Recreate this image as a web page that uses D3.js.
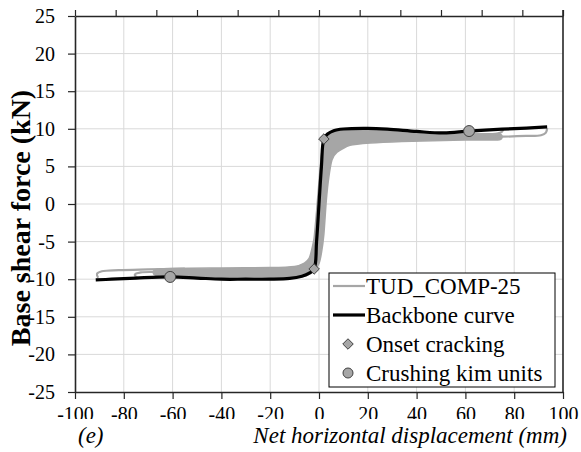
<!DOCTYPE html>
<html>
<head>
<meta charset="utf-8">
<script src="https://cdn.jsdelivr.net/npm/d3@7"></script>
<style>
  body { margin: 0; background: #fff; }
  #chart text { font-family: "Liberation Serif", "Times New Roman", serif; }
</style>
</head>
<body>
<svg id="chart" width="581" height="452"></svg>
<script>
// AXIS TICKS
var xTicks = [-100, -80, -60, -40, -20, 0, 20, 40, 60, 80, 100];
var yTicks = [-25, -20, -15, -10, -5, 0, 5, 10, 15, 20, 25];
var topTickCount = 12;

// BACKBONE CURVE [disp mm, force kN]
var backbone = [
  [-91.5, -10.1], [-85, -10.0], [-75, -9.85], [-61, -9.7], [-50, -9.85], [-40, -10.0],
  [-30, -10.0], [-20, -10.0], [-12, -9.9], [-7, -9.6], [-4, -9.2], [-2, -8.64],
  [-1, -5], [0, 0], [1, 5], [2, 8.64], [3.5, 9.3], [6, 9.75], [10, 9.97], [20, 10.05],
  [28, 9.95], [40, 9.65], [51, 9.45], [61.5, 9.7], [75, 9.95], [85, 10.1], [93.5, 10.25]
];

// TUD_COMP-25 cycles: envelope of the dense loops (upper edge, then lower edge back)
var loopsUpper = [
  [-66, -8.65], [-40, -8.5], [-20, -8.45], [-10, -8.3], [-6, -7.85], [-4, -7.2],
  [-3, -6.1], [-2, -4.5], [-1, -1], [0, 3], [1, 6.5], [2, 8.4], [3.5, 9.2], [6, 9.6],
  [10, 9.8], [20, 9.9], [28, 9.8], [40, 9.5], [51, 9.3], [60, 9.3], [74, 9.3]
];
var loopsLower = [
  [74, 8.55], [60, 8.5], [51, 8.45], [34, 8.3], [21, 8.1], [12.7, 7.8], [7.4, 6.9],
  [5.3, 5.85], [4, 3.5], [3, 0.5], [2, -4], [1, -6.5], [0, -7.9], [-2, -8.9],
  [-5, -9.5], [-10, -9.75], [-20, -9.8], [-40, -9.8], [-66, -9.55]
];
// outer cycles that reach past the dense part
var outerPosA = [[60, 8.9], [75, 8.95], [85, 9.05], [91, 9.15], [93, 9.5], [93.5, 10.1]];
var outerPosB = [[50, 9.15], [65, 9.25], [73, 9.35], [75, 9.6], [75.5, 10.0]];
var outerNegA = [[-55, -8.6], [-70, -8.7], [-82, -8.8], [-89, -8.95], [-91, -9.3], [-90.5, -9.8]];
var outerNegB = [[-55, -9.0], [-65, -9.05], [-73, -9.1], [-75.5, -9.4], [-74.5, -9.8]];

// MARKERS
var crackingPts = [[-2, -8.64], [2, 8.64]];
var crushingPts = [[-61, -9.7], [61.5, 9.7]];

var legendLabels = ['TUD_COMP-25', 'Backbone curve', 'Onset cracking', 'Crushing kim units'];

var grey = '#a6a6a6';
var svg = d3.select('#chart');

var x = d3.scaleLinear().domain([-100, 100]).range([75, 563]);
var y = d3.scaleLinear().domain([-25, 25]).range([392, 16]);
var xTop = d3.scaleLinear().domain([0, topTickCount]).range([75, 563]);
var plain = function(d) { return String(d); };   // hyphen minus, like the original

// GRID
svg.append('g').selectAll('line')
  .data(xTicks.slice(1, -1))
  .enter().append('line')
    .attr('x1', function(d) { return x(d); })
    .attr('x2', function(d) { return x(d); })
    .attr('y1', y(25)).attr('y2', y(-25))
    .attr('stroke', '#d9d9d9').attr('stroke-width', 1);
svg.append('g').selectAll('line')
  .data(yTicks.slice(1, -1))
  .enter().append('line')
    .attr('y1', function(d) { return y(d); })
    .attr('y2', function(d) { return y(d); })
    .attr('x1', x(-100)).attr('x2', x(100))
    .attr('stroke', '#d9d9d9').attr('stroke-width', 1);

// HYSTERESIS LOOPS
var line = d3.line()
  .x(function(d) { return x(d[0]); })
  .y(function(d) { return y(d[1]); })
  .curve(d3.curveCatmullRom.alpha(0.5));
var bandLine = d3.line()
  .x(function(d) { return x(d[0]); })
  .y(function(d) { return y(d[1]); })
  .curve(d3.curveCardinalClosed.tension(0.4));

svg.append('path')
  .attr('class', 'band')
  .attr('d', bandLine(loopsUpper.concat(loopsLower)))
  .attr('fill', grey)
  .attr('stroke', grey)
  .attr('stroke-width', 1.5);

svg.selectAll('path.outer')
  .data([outerPosA, outerPosB, outerNegA, outerNegB])
  .enter().append('path')
    .attr('class', 'outer')
    .attr('d', line)
    .attr('fill', 'none')
    .attr('stroke', grey)
    .attr('stroke-width', 2.2);

// BACKBONE
svg.append('path')
  .datum(backbone)
    .attr('d', line)
    .attr('fill', 'none')
    .attr('stroke', '#000')
    .attr('stroke-width', 3.2)
    .attr('stroke-linejoin', 'round');

var diamond = d3.symbol().type(d3.symbolDiamond2).size(70);
svg.selectAll('path.crack')
  .data(crackingPts)
  .enter().append('path')
    .attr('class', 'crack')
    .attr('d', diamond)
    .attr('transform', function(d) { return 'translate(' + x(d[0]) + ',' + y(d[1]) + ')'; })
    .attr('fill', grey)
    .attr('stroke', '#404040')
    .attr('stroke-width', 1);

svg.selectAll('circle.crush')
  .data(crushingPts)
  .enter().append('circle')
    .attr('class', 'crush')
    .attr('cx', function(d) { return x(d[0]); })
    .attr('cy', function(d) { return y(d[1]); })
    .attr('r', 5.5)
    .attr('fill', grey)
    .attr('stroke', '#404040')
    .attr('stroke-width', 1);

// AXES
var yAxis = svg.append('g')
  .attr('transform', 'translate(' + x(-100) + ',0)')
  .call(d3.axisLeft(y).tickValues(yTicks).tickSize(7).tickSizeOuter(0).tickPadding(13).tickFormat(plain));

// bottom tick labels sit slightly cut off in the original
svg.append('clipPath').attr('id', 'xlabClip')
  .append('rect').attr('x', 0).attr('y', 0).attr('width', 581).attr('height', 419);
var xAxis = svg.append('g')
  .attr('clip-path', 'url(#xlabClip)')
  .append('g')
  .attr('transform', 'translate(0,' + y(-25) + ')')
  .call(d3.axisBottom(x).tickValues(xTicks).tickSize(7).tickSizeOuter(0).tickPadding(8).tickFormat(plain));

var topAxis = svg.append('g')
  .attr('transform', 'translate(0,' + y(25) + ')')
  .call(d3.axisTop(xTop).ticks(topTickCount).tickSize(6).tickSizeOuter(0).tickFormat(''));

svg.append('line')
  .attr('x1', x(100)).attr('x2', x(100))
  .attr('y1', y(25) - 6).attr('y2', y(-25))
  .attr('stroke', '#262626').attr('stroke-width', 1.6);

svg.selectAll('.domain').attr('stroke', '#262626').attr('stroke-width', 1.6);
svg.selectAll('.tick line').attr('stroke', '#262626').attr('stroke-width', 1.2);
svg.selectAll('.tick text')
  .attr('font-size', 20)
  .attr('fill', '#000');

// AXIS TITLES
svg.append('text')
  .attr('transform', 'translate(30,' + 218 + ') rotate(-90)')
  .attr('text-anchor', 'middle')
  .attr('font-size', 28)
  .attr('font-weight', 'bold')
  .text('Base shear force (kN)');

svg.append('text')
  .attr('x', 567).attr('y', 443)
  .attr('text-anchor', 'end')
  .attr('font-size', 23)
  .attr('font-style', 'italic')
  .text('Net horizontal displacement (mm)');

svg.append('text')
  .attr('x', 78).attr('y', 443)
  .attr('font-size', 23)
  .attr('font-style', 'italic')
  .text('(e)');

// LEGEND
var legend = svg.append('g').attr('transform', 'translate(329,273)');
legend.append('rect')
  .attr('width', 226).attr('height', 114)
  .attr('fill', '#fff')
  .attr('stroke', '#000')
  .attr('stroke-width', 1);

var rows = legend.selectAll('g.row')
  .data(legendLabels)
  .enter().append('g')
    .attr('class', 'row')
    .attr('transform', function(d, i) { return 'translate(0,' + (13 + i * 29) + ')'; });

rows.append('text')
  .attr('x', 37).attr('y', 8)
  .attr('font-size', 23)
  .text(function(d) { return d; });

rows.filter(function(d, i) { return i < 2; })
  .append('line')
    .attr('x1', 4).attr('x2', 36)
    .attr('y1', 0).attr('y2', 0)
    .attr('stroke', function(d, i) { return i == 0 ? grey : '#000'; })
    .attr('stroke-width', function(d, i) { return i == 0 ? 2.2 : 3.2; });

rows.filter(function(d, i) { return i == 2; })
  .append('path')
    .attr('d', diamond)
    .attr('transform', 'translate(19,0)')
    .attr('fill', grey).attr('stroke', '#404040');

rows.filter(function(d, i) { return i == 3; })
  .append('circle')
    .attr('cx', 19).attr('cy', 0).attr('r', 5)
    .attr('fill', grey).attr('stroke', '#404040');
</script>
</body>
</html>
